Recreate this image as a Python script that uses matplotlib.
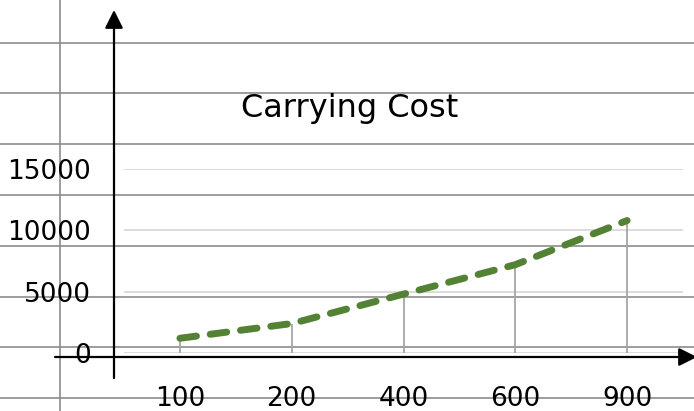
import matplotlib
matplotlib.use("Agg")
import matplotlib.pyplot as plt
from matplotlib.patches import FancyArrowPatch
from matplotlib.lines import Line2D


W, H = 694, 411

# chart data
quantities = ["100", "200", "400", "600", "900"]
carrying_cost = [1200, 2400, 4800, 7200, 10800]
y_ticks = [0, 5000, 10000, 15000]

# notebook paper ruling (pixel rows / column)
paper_rows = [42.7, 93.3, 144, 195, 245.7, 296.7, 347.3, 398.3]
paper_margin = 60


def fx(x):
    return x / W


def fy(y):
    return 1 - y / H


fig = plt.figure(figsize=(W / 100, H / 100), dpi=100)
fig.patch.set_facecolor("white")

# paper lines behind everything
for r in paper_rows:
    fig.add_artist(Line2D([0, 1], [fy(r), fy(r)], transform=fig.transFigure,
                          color="#8c8c8c", lw=1.2, zorder=0))
fig.add_artist(Line2D([fx(paper_margin)] * 2, [0, 1], transform=fig.transFigure,
                      color="#8c8c8c", lw=1.2, zorder=0))

# plot area: categories at 180..627 px, value 0 at 353 px, 15000 at 169 px
left, right = 124, 683
bottom, top = 353, 169
ax = fig.add_axes([fx(left), fy(bottom), fx(right) - fx(left), fy(top) - fy(bottom)])
ax.patch.set_alpha(0)

x = list(range(len(quantities)))
ax.set_xlim(-0.5, len(quantities) - 0.5)
ax.set_ylim(0, 15000)

for v in y_ticks:
    ax.axhline(v, color="#d9d9d9", lw=1.3, zorder=1)

ax.vlines(x, 0, carrying_cost, color="#a6a6a6", lw=1.3, zorder=2)
ax.plot(x, carrying_cost, color="#548235", lw=5, linestyle=(0, (2.4, 2.0)),
        dash_capstyle="round", solid_capstyle="round", zorder=3, clip_on=False)

for s in ax.spines.values():
    s.set_visible(False)

ax.set_xticks(x)
ax.set_xticklabels(quantities)
ax.set_yticks(y_ticks)
ax.set_yticklabels([str(v) for v in y_ticks])
ax.tick_params(axis="y", length=0, pad=24, labelsize=19)
ax.tick_params(axis="x", length=0, pad=24, labelsize=19)

# title
fig.text(fx(350), fy(108), "Carrying Cost", ha="center", va="center", fontsize=23)

# hand-drawn axes with arrows
va = FancyArrowPatch((fx(114), fy(378)), (fx(114), fy(10)), transform=fig.transFigure,
                     arrowstyle="-|>,head_length=11,head_width=5.5", mutation_scale=1,
                     color="black", lw=1.6, zorder=5, shrinkA=0, shrinkB=0)
ha = FancyArrowPatch((fx(55), fy(357)), (fx(697), fy(357)), transform=fig.transFigure,
                     arrowstyle="-|>,head_length=11,head_width=5.5", mutation_scale=1,
                     color="black", lw=1.6, zorder=5, shrinkA=0, shrinkB=0)
fig.add_artist(va)
fig.add_artist(ha)

fig.savefig("out.png", dpi=100)
